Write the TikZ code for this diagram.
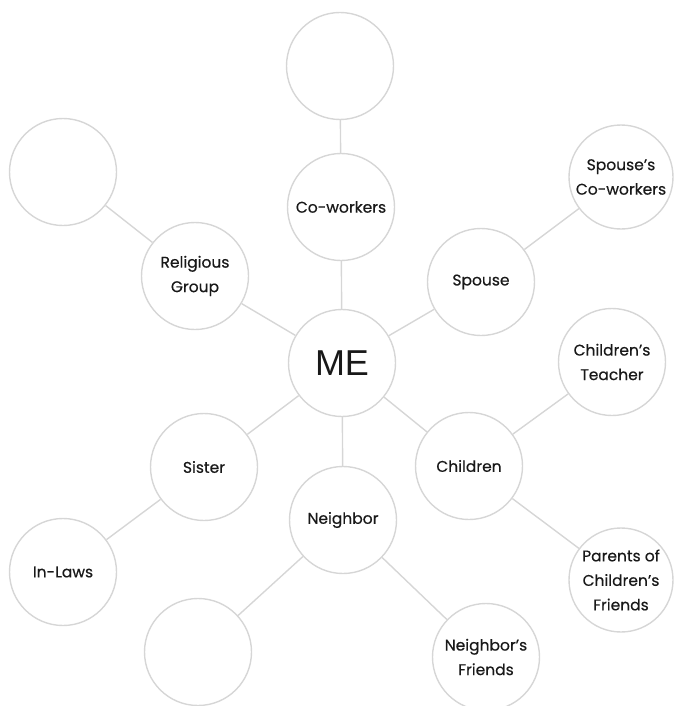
\documentclass[tikz,border=0pt]{standalone}
\usepackage{fontspec}
\setmainfont{Poppins}
\newfontfamily\lblfont{Poppins}[FakeBold=0.5]
\newfontfamily\mefont{Liberation Sans}
\definecolor{linegray}{RGB}{214,214,214}
\definecolor{txt}{RGB}{25,25,25}
\begin{document}
\begin{tikzpicture}[x=1pt,y=-1pt,
  bubble/.style={circle,draw=linegray,line width=1.4pt,minimum size=107pt,inner sep=0pt,
     align=center,text=txt,font=\lblfont\fontsize{15.5}{24.5}\selectfont},
  link/.style={draw=linegray,line width=1.4pt}]
\useasboundingbox (0,0) rectangle (674,706);
\node[bubble,font=\mefont\fontsize{36}{36}\selectfont] (me) at (342,363) {ME};
\node[bubble] (cw) at (341,207) {Co-workers};
\node[bubble] (top) at (340,66) {};
\node[bubble] (rel) at (195,276) {Religious\\Group};
\node[bubble] (tl) at (63,172) {};
\node[bubble] (sp) at (481,282) {Spouse};
\node[bubble,minimum size=104pt] (spcw) at (621,177) {Spouse’s\\Co-workers};
\node[bubble] (cht) at (612,362) {Children’s\\Teacher};
\node[bubble] (ch) at (469,466) {Children};
\node[bubble,minimum size=104pt] (par) at (621,580) {Parents of\\Children’s\\Friends};
\node[bubble] (sis) at (204,467) {Sister};
\node[bubble] (inl) at (63,572) {In-Laws};
\node[bubble] (nb) at (343,520) {Neighbor};
\node[bubble] (nbf) at (486,657) {Neighbor’s\\Friends};
\node[bubble] (bl) at (198,652) {};
\draw[link] (me) -- (cw);
\draw[link] (cw) -- (top);
\draw[link] (me) -- (rel);
\draw[link] (rel) -- (tl);
\draw[link] (me) -- (sp);
\draw[link] (sp) -- (spcw);
\draw[link] (me) -- (ch);
\draw[link] (ch) -- (cht);
\draw[link] (ch) -- (par);
\draw[link] (me) -- (sis);
\draw[link] (sis) -- (inl);
\draw[link] (me) -- (nb);
\draw[link] (nb) -- (bl);
\draw[link] (nb) -- (nbf);
\end{tikzpicture}
\end{document}
